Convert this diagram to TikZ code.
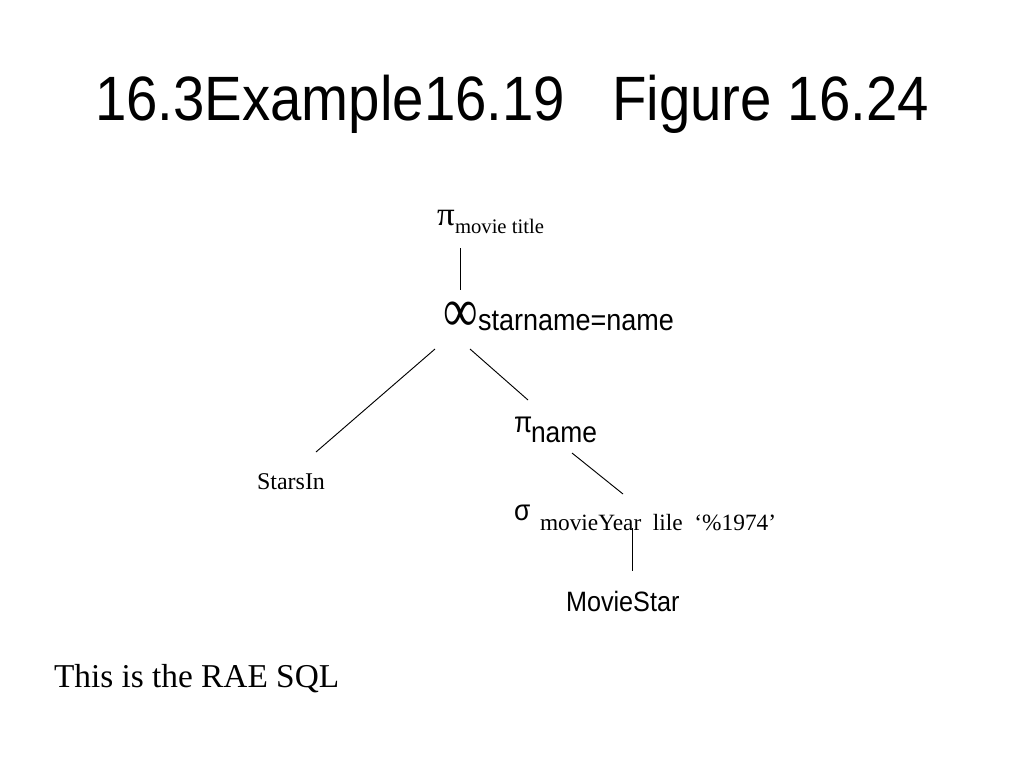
\documentclass[tikz,border=0pt]{standalone}
\usepackage{fontspec}
\usepackage{graphicx}
\setmainfont{Liberation Serif}
\newfontfamily\arialf{Liberation Sans}
\newcommand{\fs}[1]{\fontsize{#1}{#1}\selectfont}
\newcommand{\sq}[1]{\scalebox{0.9}[1]{#1}}
\tikzset{
  txt/.style={inner sep=0pt, outer sep=0pt, anchor=base west},
  edge/.style={draw=black, line width=0.7pt}
}
\begin{document}
\begin{tikzpicture}[x=0.75pt,y=-0.75pt]
\useasboundingbox[fill=white] (0,0) rectangle (1024,768);
% title
\node[txt] (title) at (95,120) {\arialf\fs{47pt}\sq{16.3Example16.19\ \ \ Figure 16.24}};
% pi movie title
\node[txt] (pi1) at (437,225) {\fs{25pt}\scalebox{1.05}[1]{π}};
\node[txt] (pi1sub) at (455,233) {\fs{15.5pt}movie title};
% join
\node[txt] (join) at (443,331) {\fs{33pt}\scalebox{1.1}[1.4]{∞}};
\node[txt] (joinsub) at (478,330) {\arialf\fs{22.5pt}\sq{starname=name}};
% pi name
\node[txt] (pi2) at (514,432) {\arialf\fs{22pt}\sq{π}};
\node[txt] (pi2sub) at (531,442) {\arialf\fs{22pt}\sq{name}};
% StarsIn
\node[txt] (starsin) at (257,489) {\fs{18pt}StarsIn};
% sigma
\node[txt] (sigma) at (514,520) {\arialf\fs{22pt}\sq{σ}};
\node[txt] (sigmasub) at (540,530) {\fs{17.5pt}movieYear\ \ lile\ \ ‘\%1974’};
% MovieStar
\node[txt] (moviestar) at (566,611) {\arialf\fs{21pt}\sq{MovieStar}};
% caption
\node[txt] (caption) at (54,687) {\fs{25pt}This is the RAE SQL};
% connector end points
\coordinate (a1) at (460,248);
\coordinate (a2) at (460,290);
\coordinate (b1) at (435,349);
\coordinate (b2) at (316,452);
\coordinate (c1) at (470,349);
\coordinate (c2) at (528,400);
\coordinate (d1) at (572,453);
\coordinate (d2) at (623,494);
\coordinate (e1) at (632,528);
\coordinate (e2) at (632,571);
\draw[edge] (a1) -- (a2);
\draw[edge] (b1) -- (b2);
\draw[edge] (c1) -- (c2);
\draw[edge] (d1) -- (d2);
\draw[edge] (e1) -- (e2);
\end{tikzpicture}
\end{document}
